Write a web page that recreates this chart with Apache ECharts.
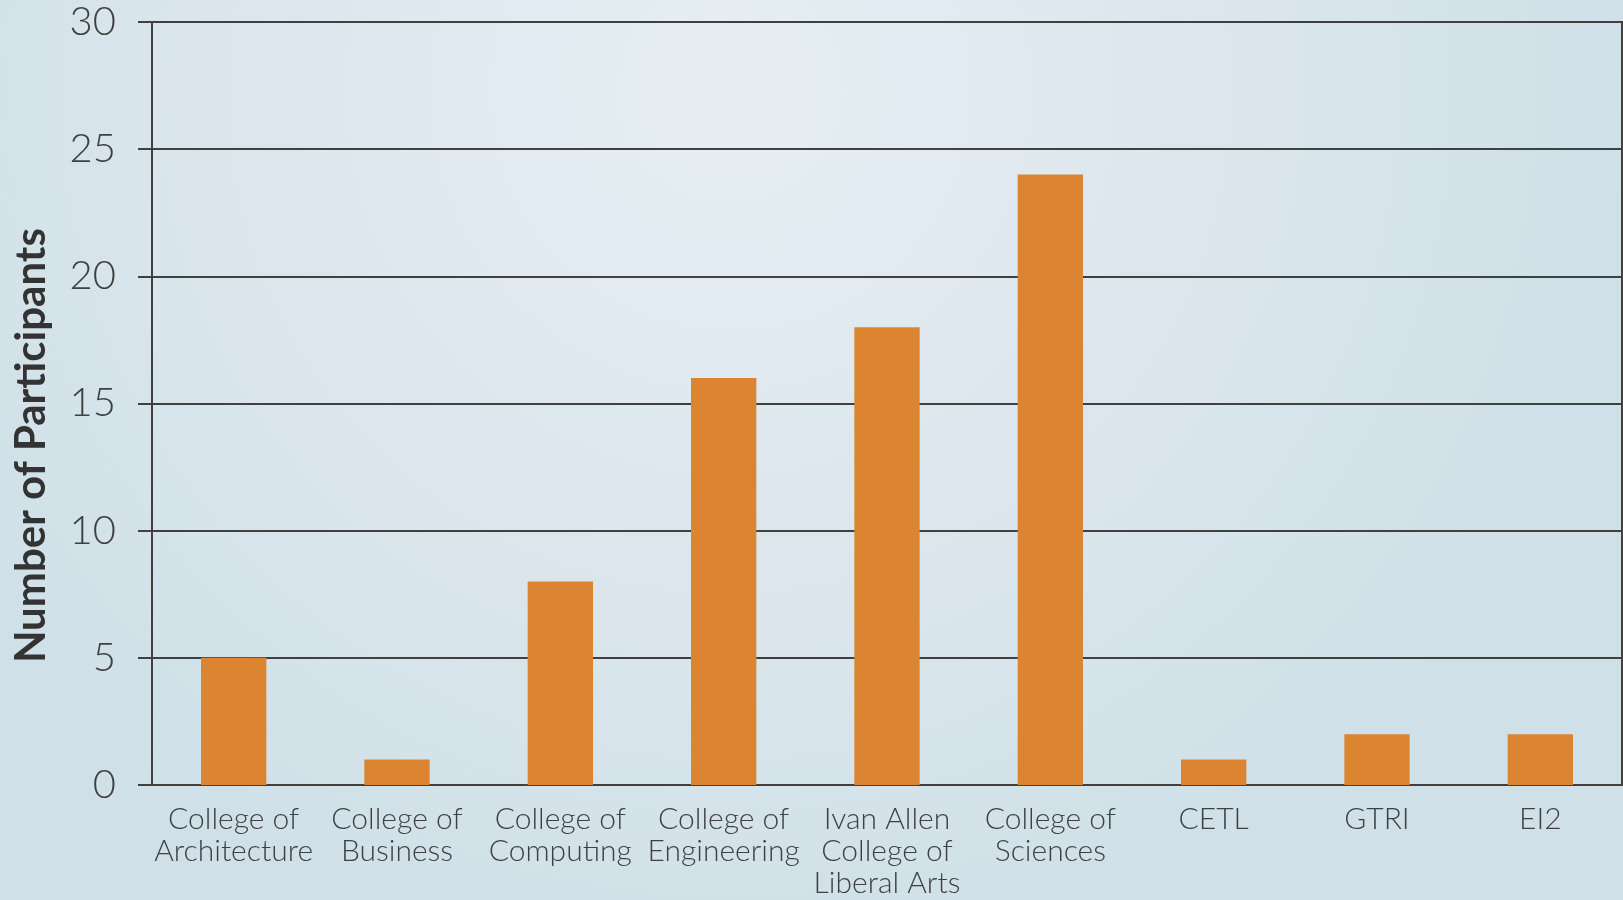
<!DOCTYPE html>
<html>
<head>
<meta charset="utf-8">
<script src="https://cdn.jsdelivr.net/npm/echarts@6/dist/echarts.min.js"></script>
<style>
  html, body { margin: 0; padding: 0; }
  #chart { width: 1623px; height: 900px; }
</style>
</head>
<body>
<div id="chart"></div>
<script>
// categories along the x axis
const categories = [
  'College of\nArchitecture',
  'College of\nBusiness',
  'College of\nComputing',
  'College of\nEngineering',
  'Ivan Allen\nCollege of\nLiberal Arts',
  'College of\nSciences',
  'CETL',
  'GTRI',
  'EI2'
]
// number of participants per unit
const participants = [5, 1, 8, 16, 18, 24, 1, 2, 2]

const axisColor = '#404040'
const fontFamily = 'Lato, "Open Sans", sans-serif'

const chart = echarts.init(document.getElementById('chart'))

const option = {
  backgroundColor: new echarts.graphic.RadialGradient(0.45, 0.1, 1.0, [
    { offset: 0, color: '#e6eef3' },
    { offset: 0.6, color: '#dae6ec' },
    { offset: 1, color: '#cfe0e8' }
  ]),
  animation: false,
  grid: {
    left: 152,
    right: 1,
    top: 22,
    bottom: 115,
    outerBoundsMode: 'none',
    containLabel: false,
    show: true,
    borderColor: axisColor,
    borderWidth: 2,
    backgroundColor: 'transparent'
  },
  xAxis: {
    type: 'category',
    data: categories,
    axisLine: { show: true, lineStyle: { color: axisColor, width: 2 } },
    axisTick: { show: false },
    axisLabel: {
      interval: 0,
      margin: 18,
      fontSize: 30,
      lineHeight: 32,
      fontWeight: 300,
      color: axisColor,
      fontFamily
    }
  },
  yAxis: {
    type: 'value',
    min: 0,
    max: 30,
    interval: 5,
    name: 'Number of Participants',
    nameLocation: 'middle',
    nameGap: 100,
    nameTextStyle: {
      fontSize: 42,
      fontWeight: 'bold',
      color: '#333',
      fontFamily,
      // 把标题往下挪一点，和原图对齐
      padding: [0, 84, 0, 0]
    },
    axisLine: { show: true, lineStyle: { color: axisColor, width: 2 } },
    axisTick: { show: true, length: 14, lineStyle: { color: axisColor, width: 2 } },
    splitLine: { lineStyle: { color: axisColor, width: 2 } },
    axisLabel: {
      margin: 36,
      fontSize: 40,
      fontWeight: 300,
      color: axisColor,
      fontFamily
    }
  },
  series: [
    {
      type: 'bar',
      data: participants,
      barWidth: '40%',
      itemStyle: { color: '#db8532' }
    }
  ]
}

chart.setOption(option)
</script>
</body>
</html>
